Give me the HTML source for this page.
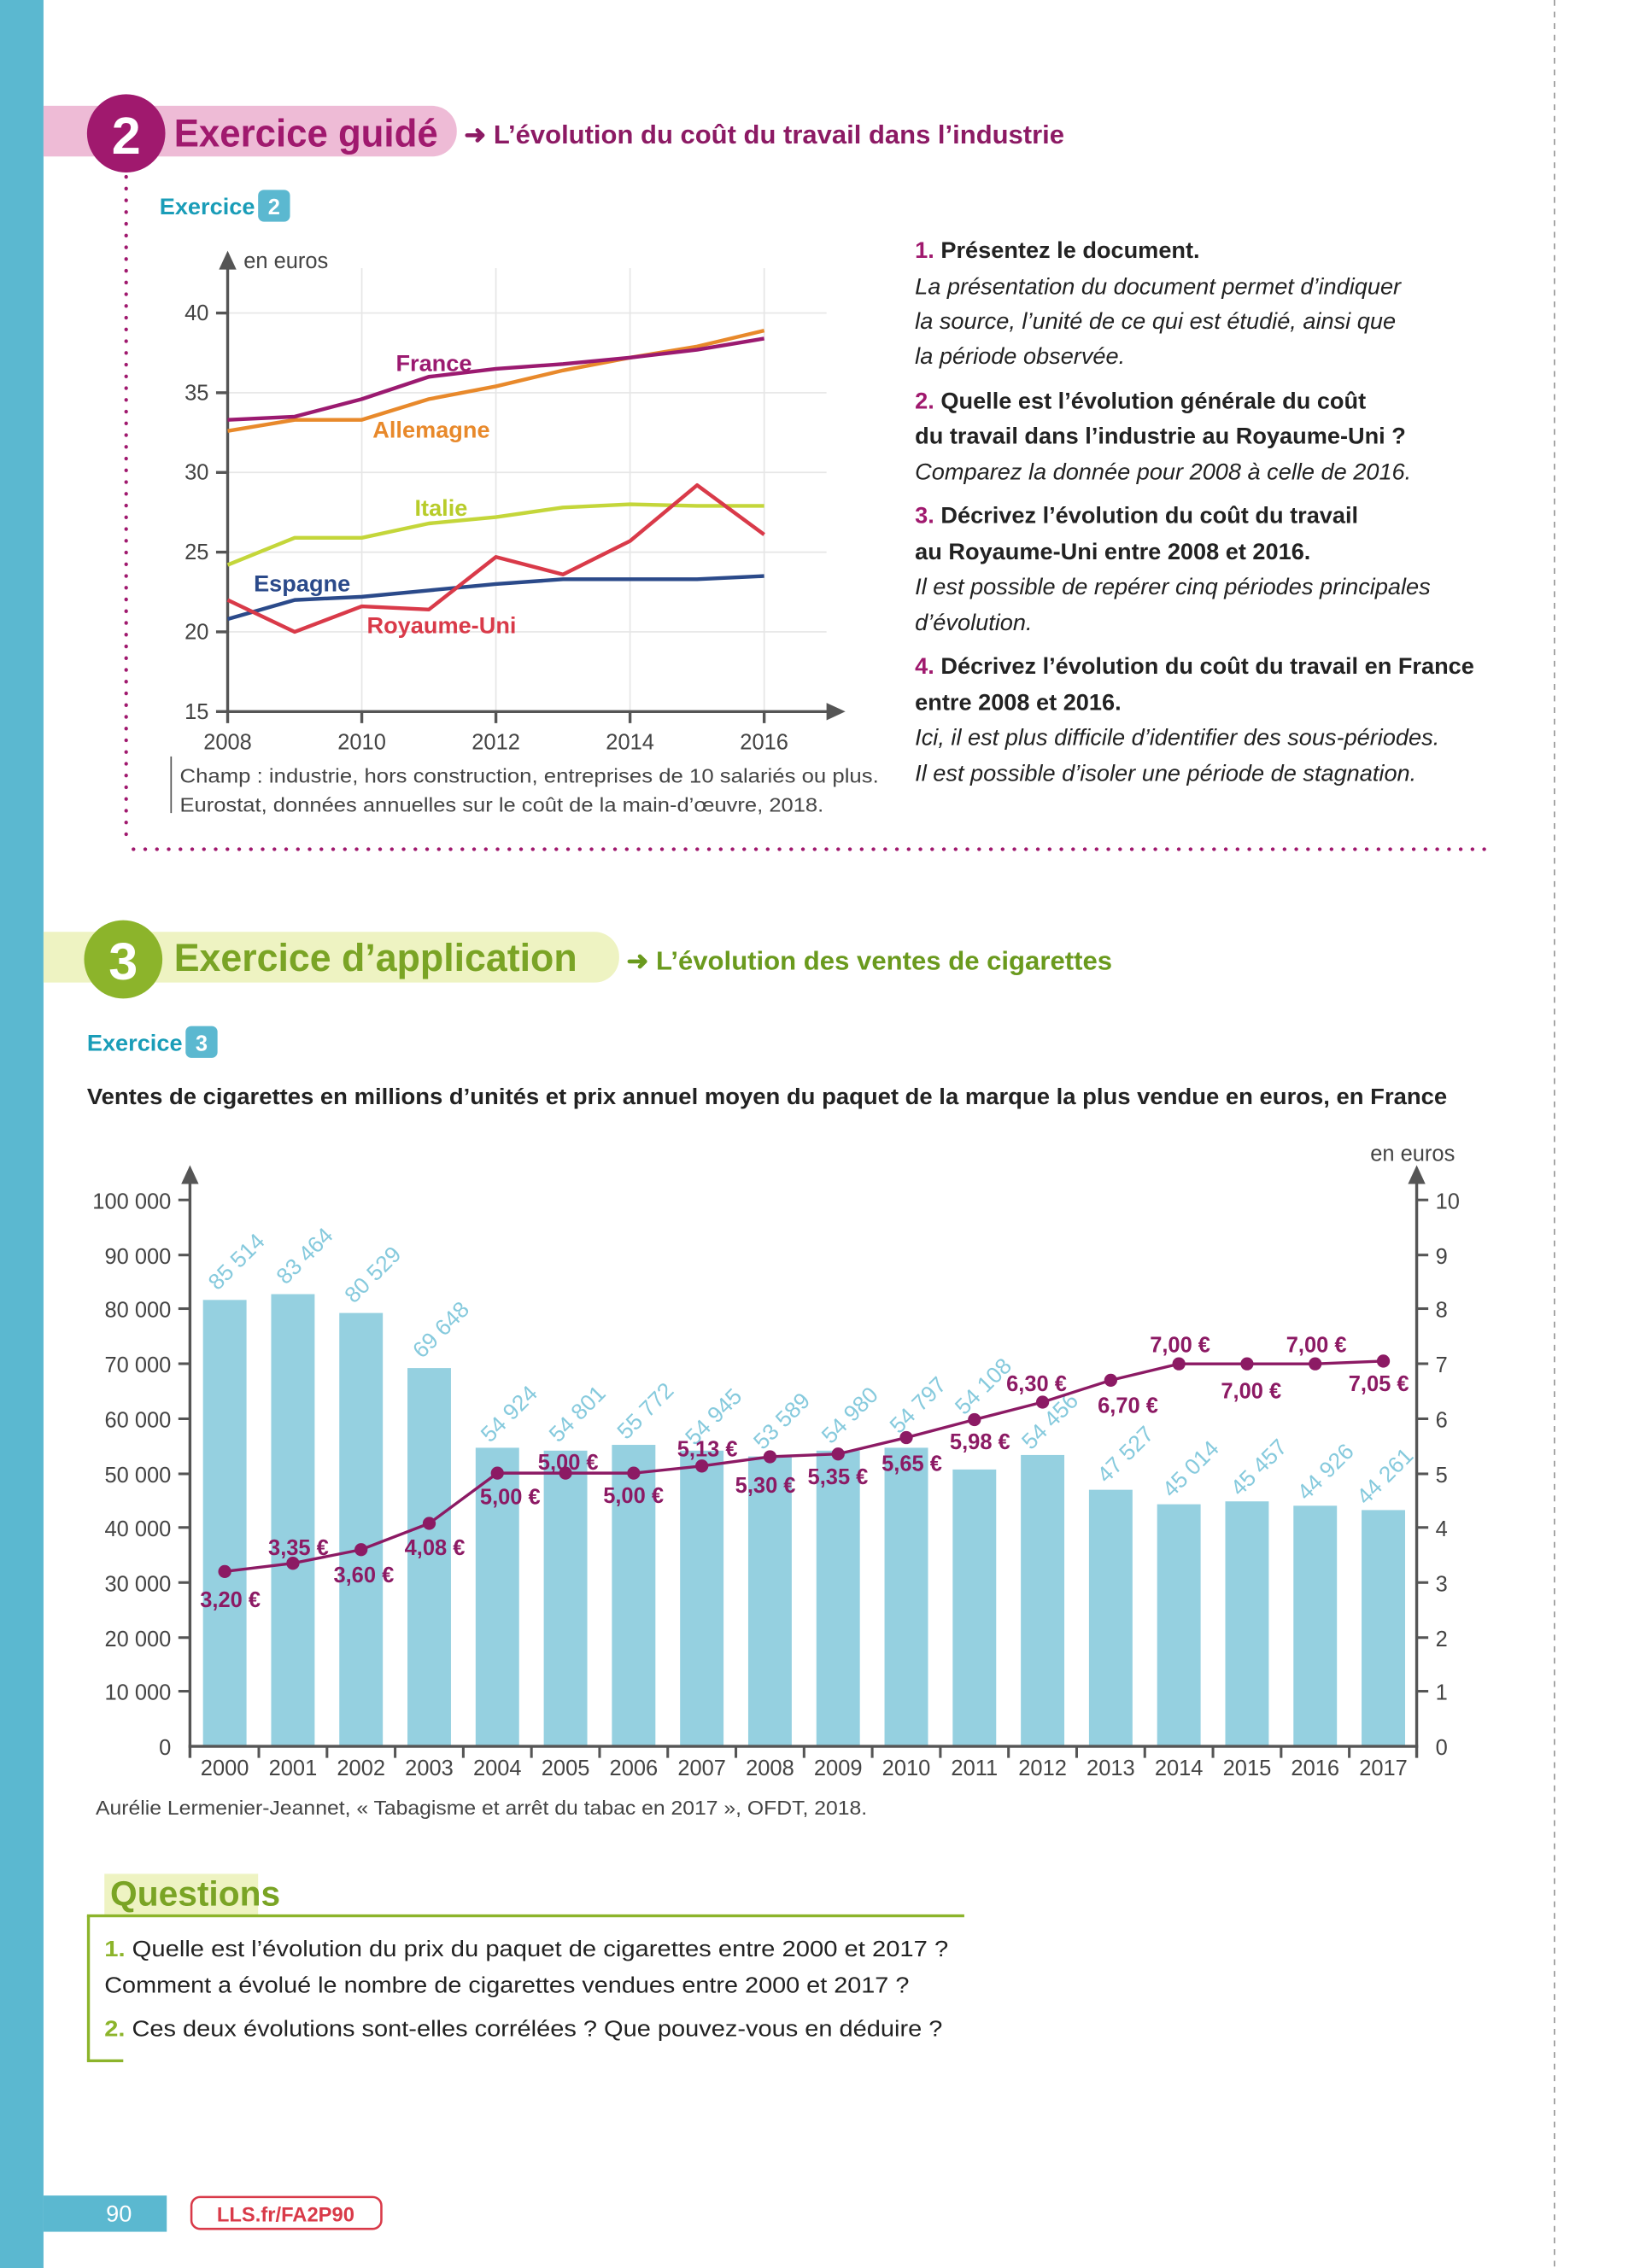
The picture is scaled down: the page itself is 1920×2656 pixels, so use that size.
<!DOCTYPE html>
<html><head><meta charset="utf-8"><style>
html,body{margin:0;padding:0;background:#fff}
svg{display:block}
text{font-family:"Liberation Sans",sans-serif}
</style></head><body>
<svg width="1920" height="2656" viewBox="0 0 1131 1565" preserveAspectRatio="none" xmlns="http://www.w3.org/2000/svg">
<rect x="0" y="0" width="1131" height="1565" fill="#fff"/>
<rect x="0" y="0" width="30" height="1565" fill="#5bb8d0"/>
<line x1="1072" y1="0" x2="1072" y2="1565" stroke="#999" stroke-width="1" stroke-dasharray="4,4"/>

<path d="M30 73 H298 a17 17 0 0 1 17 17 v1 a17 17 0 0 1 -17 17 H30Z" fill="#eebbd6"/>
<circle cx="87" cy="92" r="27" fill="#a0196e"/>
<text x="87" y="106" font-size="36" font-weight="bold" fill="#fff" text-anchor="middle">2</text>
<text x="120" y="101" font-size="27" font-weight="bold" fill="#a0196e" textLength="182" lengthAdjust="spacingAndGlyphs">Exercice guidé</text>
<text x="320" y="99" font-size="18" font-weight="bold" fill="#8c1a64" textLength="414" lengthAdjust="spacingAndGlyphs">➜ L’évolution du coût du travail dans l’industrie</text>
<line x1="87" y1="122" x2="87" y2="580" stroke="#a0196e" stroke-width="2.5" stroke-dasharray="0.1,8" stroke-linecap="round"/>
<line x1="92" y1="586" x2="1025" y2="586" stroke="#a0196e" stroke-width="2.5" stroke-dasharray="0.1,8" stroke-linecap="round"/>

<text x="110" y="148" font-size="16" font-weight="bold" fill="#1a9db8">Exercice</text>
<rect x="178" y="131" width="22" height="22" rx="4" fill="#5bb8d0"/>
<text x="189" y="148" font-size="15" font-weight="bold" fill="#fff" text-anchor="middle">2</text>

<g stroke="#e6e6e6" stroke-width="1">
<line x1="157" y1="216" x2="570" y2="216"/><line x1="157" y1="271" x2="570" y2="271"/>
<line x1="157" y1="326" x2="570" y2="326"/><line x1="157" y1="381" x2="570" y2="381"/>
<line x1="157" y1="436" x2="570" y2="436"/>
<line x1="249.5" y1="185" x2="249.5" y2="491"/><line x1="342" y1="185" x2="342" y2="491"/>
<line x1="434.5" y1="185" x2="434.5" y2="491"/><line x1="527" y1="185" x2="527" y2="491"/>
</g>
<g stroke="#555" stroke-width="2">
<line x1="157" y1="180" x2="157" y2="492"/><line x1="156" y1="491" x2="572" y2="491"/>
<line x1="149" y1="216" x2="157" y2="216"/><line x1="149" y1="271" x2="157" y2="271"/><line x1="149" y1="326" x2="157" y2="326"/><line x1="149" y1="381" x2="157" y2="381"/><line x1="149" y1="436" x2="157" y2="436"/><line x1="149" y1="491" x2="157" y2="491"/>
<line x1="157" y1="491" x2="157" y2="499"/><line x1="249.5" y1="491" x2="249.5" y2="499"/><line x1="342" y1="491" x2="342" y2="499"/><line x1="434.5" y1="491" x2="434.5" y2="499"/><line x1="527" y1="491" x2="527" y2="499"/>
</g>
<path d="M151 186 L157 173 L163 186Z" fill="#555"/>
<path d="M570 485 L583 491 L570 497Z" fill="#555"/>
<g font-size="15" fill="#444" text-anchor="end">
<text x="144" y="221">40</text><text x="144" y="276">35</text><text x="144" y="331">30</text><text x="144" y="386">25</text><text x="144" y="441">20</text><text x="144" y="496">15</text>
</g>
<g font-size="15" fill="#444" text-anchor="middle">
<text x="157" y="517">2008</text><text x="249.5" y="517">2010</text><text x="342" y="517">2012</text><text x="434.5" y="517">2014</text><text x="527" y="517">2016</text>
</g>
<text x="168" y="185" font-size="15" fill="#444">en euros</text>
<g fill="none" stroke-width="2.6" stroke-linejoin="round">
<polyline stroke="#e8892b" points="157,297.4 203.25,289.7 249.5,289.7 295.75,275.4 342,266.6 388.25,255.6 434.5,246.8 480.75,239.1 527,228.1"/>
<polyline stroke="#9b1a70" points="157,289.7 203.25,287.5 249.5,275.4 295.75,260 342,254.5 388.25,251.2 434.5,246.8 480.75,241.3 527,233.6"/>
<polyline stroke="#c4d63a" points="157,389.8 203.25,371.1 249.5,371.1 295.75,361.2 342,356.8 388.25,350.2 434.5,348 480.75,349.1 527,349.1"/>
<polyline stroke="#2b4a8a" points="157,427.2 203.25,414 249.5,411.8 295.75,407.4 342,403 388.25,399.7 434.5,399.7 480.75,399.7 527,397.5"/>
<polyline stroke="#d93a49" points="157,414 203.25,436 249.5,418.4 295.75,420.6 342,384.3 388.25,396.4 434.5,373.3 480.75,334.8 527,368.9"/>
</g>
<g font-size="16" font-weight="bold">
<text x="273" y="256" fill="#9b1a70">France</text>
<text x="257" y="302" fill="#e8892b">Allemagne</text>
<text x="286" y="356" fill="#b8cc2a">Italie</text>
<text x="175" y="408" fill="#2b4a8a">Espagne</text>
<text x="253" y="437" fill="#d93a49">Royaume-Uni</text>
</g>
<line x1="118" y1="522" x2="118" y2="561" stroke="#555" stroke-width="1"/>
<text x="124" y="540" font-size="13.5" fill="#444" textLength="482" lengthAdjust="spacingAndGlyphs">Champ : industrie, hors construction, entreprises de 10 salariés ou plus.</text>
<text x="124" y="560" font-size="13.5" fill="#444" textLength="444" lengthAdjust="spacingAndGlyphs">Eurostat, données annuelles sur le coût de la main-d’œuvre, 2018.</text>

<g font-size="16" fill="#222">
<text x="631" y="178" font-weight="bold"><tspan fill="#a0196e">1.</tspan> Présentez le document.</text>
<text x="631" y="203" font-style="italic">La présentation du document permet d’indiquer</text>
<text x="631" y="227" font-style="italic">la source, l’unité de ce qui est étudié, ainsi que</text>
<text x="631" y="251" font-style="italic">la période observée.</text>
<text x="631" y="282" font-weight="bold"><tspan fill="#a0196e">2.</tspan> Quelle est l’évolution générale du coût</text>
<text x="631" y="306" font-weight="bold">du travail dans l’industrie au Royaume-Uni ?</text>
<text x="631" y="331" font-style="italic">Comparez la donnée pour 2008 à celle de 2016.</text>
<text x="631" y="361" font-weight="bold"><tspan fill="#a0196e">3.</tspan> Décrivez l’évolution du coût du travail</text>
<text x="631" y="386" font-weight="bold">au Royaume-Uni entre 2008 et 2016.</text>
<text x="631" y="410" font-style="italic">Il est possible de repérer cinq périodes principales</text>
<text x="631" y="435" font-style="italic">d’évolution.</text>
<text x="631" y="465" font-weight="bold"><tspan fill="#a0196e">4.</tspan> Décrivez l’évolution du coût du travail en France</text>
<text x="631" y="490" font-weight="bold">entre 2008 et 2016.</text>
<text x="631" y="514" font-style="italic">Ici, il est plus difficile d’identifier des sous-périodes.</text>
<text x="631" y="539" font-style="italic">Il est possible d’isoler une période de stagnation.</text>
</g>

<path d="M30 643 H410 a17 17 0 0 1 17 17 v1 a17 17 0 0 1 -17 17 H30Z" fill="#eef3c2"/>
<circle cx="85" cy="662" r="27" fill="#8cb42b"/>
<text x="85" y="676" font-size="36" font-weight="bold" fill="#fff" text-anchor="middle">3</text>
<text x="120" y="670" font-size="27" font-weight="bold" fill="#7aa425" textLength="278" lengthAdjust="spacingAndGlyphs">Exercice d’application</text>
<text x="432" y="669" font-size="18" font-weight="bold" fill="#6a9a1e" textLength="335" lengthAdjust="spacingAndGlyphs">➜ L’évolution des ventes de cigarettes</text>

<text x="60" y="725" font-size="16" font-weight="bold" fill="#1a9db8">Exercice</text>
<rect x="128" y="708" width="22" height="22" rx="4" fill="#5bb8d0"/>
<text x="139" y="725" font-size="15" font-weight="bold" fill="#fff" text-anchor="middle">3</text>
<text x="60" y="762" font-size="15.5" font-weight="bold" fill="#222" textLength="938" lengthAdjust="spacingAndGlyphs">Ventes de cigarettes en millions d’unités et prix annuel moyen du paquet de la marque la plus vendue en euros, en France</text>

<g fill="#95d0e0">
<rect x="140" y="897" width="30" height="308"/><rect x="187" y="893" width="30" height="312"/>
<rect x="234" y="906" width="30" height="299"/><rect x="281" y="944" width="30" height="261"/>
<rect x="328" y="999" width="30" height="206"/><rect x="375" y="1001" width="30" height="204"/>
<rect x="422" y="997" width="30" height="208"/><rect x="469" y="1001" width="30" height="204"/>
<rect x="516" y="1005" width="30" height="200"/><rect x="563" y="1001" width="30" height="204"/>
<rect x="610" y="999" width="30" height="206"/><rect x="657" y="1014" width="30" height="191"/>
<rect x="704" y="1004" width="30" height="201"/><rect x="751" y="1028" width="30" height="177"/>
<rect x="798" y="1038" width="30" height="167"/><rect x="845" y="1036" width="30" height="169"/>
<rect x="892" y="1039" width="30" height="166"/><rect x="939" y="1042" width="30" height="163"/>
</g>
<g stroke="#555" stroke-width="2">
<line x1="131" y1="815" x2="131" y2="1213"/><line x1="977" y1="815" x2="977" y2="1213"/>
<line x1="130" y1="1205" x2="978" y2="1205"/>
</g>
<path d="M125 817 L131 804 L137 817Z" fill="#555"/>
<path d="M971 817 L977 804 L983 817Z" fill="#555"/>
<g stroke="#555" stroke-width="1.8">
<line x1="123" y1="828" x2="131" y2="828"/><line x1="123" y1="866" x2="131" y2="866"/><line x1="123" y1="903" x2="131" y2="903"/><line x1="123" y1="941" x2="131" y2="941"/><line x1="123" y1="979" x2="131" y2="979"/><line x1="123" y1="1017" x2="131" y2="1017"/><line x1="123" y1="1054" x2="131" y2="1054"/><line x1="123" y1="1092" x2="131" y2="1092"/><line x1="123" y1="1130" x2="131" y2="1130"/><line x1="123" y1="1167" x2="131" y2="1167"/>
<line x1="977" y1="828" x2="985" y2="828"/><line x1="977" y1="866" x2="985" y2="866"/><line x1="977" y1="903" x2="985" y2="903"/><line x1="977" y1="941" x2="985" y2="941"/><line x1="977" y1="979" x2="985" y2="979"/><line x1="977" y1="1017" x2="985" y2="1017"/><line x1="977" y1="1054" x2="985" y2="1054"/><line x1="977" y1="1092" x2="985" y2="1092"/><line x1="977" y1="1130" x2="985" y2="1130"/><line x1="977" y1="1167" x2="985" y2="1167"/>
<line x1="178.5" y1="1205" x2="178.5" y2="1213"/><line x1="225.5" y1="1205" x2="225.5" y2="1213"/><line x1="272.5" y1="1205" x2="272.5" y2="1213"/><line x1="319.5" y1="1205" x2="319.5" y2="1213"/><line x1="366.5" y1="1205" x2="366.5" y2="1213"/><line x1="413.5" y1="1205" x2="413.5" y2="1213"/><line x1="460.5" y1="1205" x2="460.5" y2="1213"/><line x1="507.5" y1="1205" x2="507.5" y2="1213"/><line x1="554.5" y1="1205" x2="554.5" y2="1213"/><line x1="601.5" y1="1205" x2="601.5" y2="1213"/><line x1="648.5" y1="1205" x2="648.5" y2="1213"/><line x1="695.5" y1="1205" x2="695.5" y2="1213"/><line x1="742.5" y1="1205" x2="742.5" y2="1213"/><line x1="789.5" y1="1205" x2="789.5" y2="1213"/><line x1="836.5" y1="1205" x2="836.5" y2="1213"/><line x1="883.5" y1="1205" x2="883.5" y2="1213"/><line x1="930.5" y1="1205" x2="930.5" y2="1213"/>
</g>
<g font-size="15" fill="#444" text-anchor="end">
<text x="118" y="834">100 000</text><text x="118" y="872">90 000</text><text x="118" y="909">80 000</text><text x="118" y="947">70 000</text><text x="118" y="985">60 000</text><text x="118" y="1023">50 000</text><text x="118" y="1060">40 000</text><text x="118" y="1098">30 000</text><text x="118" y="1136">20 000</text><text x="118" y="1173">10 000</text><text x="118" y="1211">0</text>
</g>
<g font-size="15" fill="#444">
<text x="990" y="834">10</text><text x="990" y="872">9</text><text x="990" y="909">8</text><text x="990" y="947">7</text><text x="990" y="985">6</text><text x="990" y="1023">5</text><text x="990" y="1060">4</text><text x="990" y="1098">3</text><text x="990" y="1136">2</text><text x="990" y="1173">1</text><text x="990" y="1211">0</text>
<text x="945" y="801">en euros</text>
</g>
<g font-size="15" fill="#444" text-anchor="middle">
<text x="155" y="1225">2000</text><text x="202" y="1225">2001</text><text x="249" y="1225">2002</text><text x="296" y="1225">2003</text><text x="343" y="1225">2004</text><text x="390" y="1225">2005</text><text x="437" y="1225">2006</text><text x="484" y="1225">2007</text><text x="531" y="1225">2008</text><text x="578" y="1225">2009</text><text x="625" y="1225">2010</text><text x="672" y="1225">2011</text><text x="719" y="1225">2012</text><text x="766" y="1225">2013</text><text x="813" y="1225">2014</text><text x="860" y="1225">2015</text><text x="907" y="1225">2016</text><text x="954" y="1225">2017</text>
</g>
<g font-size="15.5" fill="#86cadd">
<text transform="translate(150,891) rotate(-45)">85 514</text>
<text transform="translate(197,887) rotate(-45)">83 464</text>
<text transform="translate(244,900) rotate(-45)">80 529</text>
<text transform="translate(291,938) rotate(-45)">69 648</text>
<text transform="translate(338,996) rotate(-45)">54 924</text>
<text transform="translate(385,996) rotate(-45)">54 801</text>
<text transform="translate(432,994) rotate(-45)">55 772</text>
<text transform="translate(479,998) rotate(-45)">54 945</text>
<text transform="translate(526,1001) rotate(-45)">53 589</text>
<text transform="translate(573,997) rotate(-45)">54 980</text>
<text transform="translate(620,990) rotate(-45)">54 797</text>
<text transform="translate(665,977) rotate(-45)">54 108</text>
<text transform="translate(711,1001) rotate(-45)">54 456</text>
<text transform="translate(763,1024) rotate(-45)">47 527</text>
<text transform="translate(808,1034) rotate(-45)">45 014</text>
<text transform="translate(855,1033) rotate(-45)">45 457</text>
<text transform="translate(901,1036) rotate(-45)">44 926</text>
<text transform="translate(942,1039) rotate(-45)">44 261</text>
</g>
<polyline fill="none" stroke="#8c1a64" stroke-width="2" points="155,1084.4 202,1078.7 249,1069.3 296,1051.2 343,1016.5 390,1016.5 437,1016.5 484,1011.6 531,1005.2 578,1003.3 625,992 672,979.6 719,967.5 766,952.4 813,941.1 860,941.1 907,941.1 954,939.2"/>
<g fill="#8c1a64">
<circle cx="155" cy="1084.4" r="4.5"/><circle cx="202" cy="1078.7" r="4.5"/><circle cx="249" cy="1069.3" r="4.5"/><circle cx="296" cy="1051.2" r="4.5"/><circle cx="343" cy="1016.5" r="4.5"/><circle cx="390" cy="1016.5" r="4.5"/><circle cx="437" cy="1016.5" r="4.5"/><circle cx="484" cy="1011.6" r="4.5"/><circle cx="531" cy="1005.2" r="4.5"/><circle cx="578" cy="1003.3" r="4.5"/><circle cx="625" cy="992" r="4.5"/><circle cx="672" cy="979.6" r="4.5"/><circle cx="719" cy="967.5" r="4.5"/><circle cx="766" cy="952.4" r="4.5"/><circle cx="813" cy="941.1" r="4.5"/><circle cx="860" cy="941.1" r="4.5"/><circle cx="907" cy="941.1" r="4.5"/><circle cx="954" cy="939.2" r="4.5"/>
</g>
<g font-size="15" font-weight="bold" fill="#8c1a64">
<text x="138" y="1109">3,20 €</text>
<text x="185" y="1073">3,35 €</text>
<text x="230" y="1092">3,60 €</text>
<text x="279" y="1073">4,08 €</text>
<text x="331" y="1038">5,00 €</text>
<text x="371" y="1014">5,00 €</text>
<text x="416" y="1037">5,00 €</text>
<text x="467" y="1005">5,13 €</text>
<text x="507" y="1030">5,30 €</text>
<text x="557" y="1024">5,35 €</text>
<text x="608" y="1015">5,65 €</text>
<text x="655" y="1000">5,98 €</text>
<text x="694" y="960">6,30 €</text>
<text x="757" y="975">6,70 €</text>
<text x="793" y="933">7,00 €</text>
<text x="842" y="965">7,00 €</text>
<text x="887" y="933">7,00 €</text>
<text x="930" y="960">7,05 €</text>
</g>
<text x="66" y="1252" font-size="13.5" fill="#444" textLength="532" lengthAdjust="spacingAndGlyphs">Aurélie Lermenier-Jeannet, « Tabagisme et arrêt du tabac en 2017 », OFDT, 2018.</text>

<rect x="72" y="1293" width="106" height="28" fill="#eef3c2"/>
<text x="76" y="1315" font-size="24" font-weight="bold" fill="#7aa425" font-family="Liberation Serif">Questions</text>
<line x1="60" y1="1322" x2="665" y2="1322" stroke="#8cb42b" stroke-width="2"/>
<line x1="61" y1="1322" x2="61" y2="1422" stroke="#8cb42b" stroke-width="2"/>
<line x1="60" y1="1422" x2="85" y2="1422" stroke="#8cb42b" stroke-width="2"/>
<g font-size="15.5" fill="#222">
<text x="72" y="1350" textLength="582" lengthAdjust="spacingAndGlyphs"><tspan fill="#8cb42b" font-weight="bold">1.</tspan> Quelle est l’évolution du prix du paquet de cigarettes entre 2000 et 2017 ?</text>
<text x="72" y="1375" textLength="555" lengthAdjust="spacingAndGlyphs">Comment a évolué le nombre de cigarettes vendues entre 2000 et 2017 ?</text>
<text x="72" y="1405" textLength="578" lengthAdjust="spacingAndGlyphs"><tspan fill="#8cb42b" font-weight="bold">2.</tspan> Ces deux évolutions sont-elles corrélées ? Que pouvez-vous en déduire ?</text>
</g>

<rect x="30" y="1515" width="85" height="25" fill="#5bb8d0"/>
<text x="82" y="1533" font-size="16" fill="#fff" text-anchor="middle">90</text>
<rect x="132" y="1516" width="131" height="22" rx="6" fill="#fff" stroke="#d93a49" stroke-width="1.5"/>
<text x="197" y="1533" font-size="14" font-weight="bold" fill="#d93a49" text-anchor="middle">LLS.fr/FA2P90</text>
</svg>
</body></html>
